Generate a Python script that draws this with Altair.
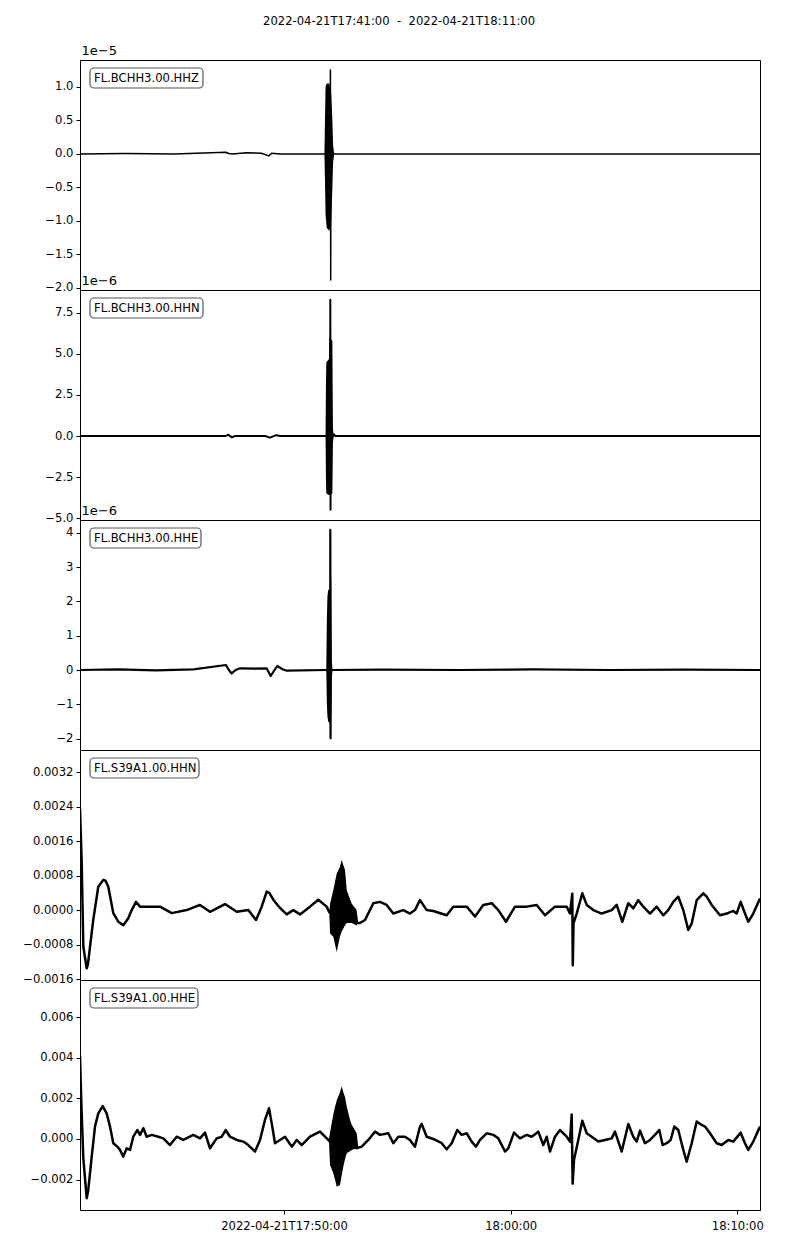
import altair as alt
import pandas as pd

TITLE = "2022-04-21T17:41:00\u00a0\u00a0-\u00a0\u00a02022-04-21T18:11:00"
T_END = 1800
X_TICKS = [540, 1140, 1740]
X_TICK_LABELS = ["2022-04-21T17:50:00", "18:00:00", "18:10:00"]

LABELS = ["FL.BCHH3.00.HHZ", "FL.BCHH3.00.HHN", "FL.BCHH3.00.HHE",
          "FL.S39A1.00.HHN", "FL.S39A1.00.HHE"]
OFFSETS = ["1e\u22125", "1e\u22126", "1e\u22126", "", ""]

# ---- FL.BCHH3.00.HHZ (units of 1e-5) ----
hhz_t = [0, 120, 250, 386, 394, 404, 440, 480, 500, 507, 530, 600, 645, 662.3,
         662.8, 663.6, 664.2, 680, 800, 1000, 1200, 1400, 1600, 1800]
hhz_v = [0, 0.005, 0, 0.025, 0.005, 0, 0.015, 0.01, -0.03, 0.01, 0, 0, 0, 0,
         1.25, -1.88, 0, 0, 0, 0, 0, 0, 0, 0]
hhz_bt = [647, 648.5, 650, 653, 660, 665, 668, 670, 673]
hhz_hi = [0, 0.5, 1.0, 1.05, 1.05, 0.9, 0.5, 0.12, 0]
hhz_lo = [0, -0.4, -0.9, -1.1, -1.15, -1.0, -0.5, -0.12, 0]

# ---- FL.BCHH3.00.HHN (units of 1e-6) ----
bhn_t = [0, 200, 386, 392, 402, 410, 490, 503, 519, 530, 649, 662.3, 662.6,
         663.2, 663.6, 672, 676, 900, 1200, 1500, 1800]
bhn_v = [0, 0, 0, 0.08, -0.08, 0, 0, -0.1, 0.05, 0, 0, 0, 8.3,
         -4.5, 0, 0.1, 0, 0, 0, 0, 0]
bhn_bt = [650, 651, 652, 659, 660, 668, 669.5, 671, 673]
bhn_hi = [0, 3.0, 4.5, 4.7, 6.0, 5.8, 0.5, 0.1, 0]
bhn_lo = [0, -2.5, -3.5, -3.6, -3.6, -3.5, -0.4, -0.1, 0]

# ---- FL.BCHH3.00.HHE (units of 1e-6) ----
bhe_t = [0, 100, 200, 300, 386.5, 394, 401.5, 412, 423.5, 460, 494, 504.7, 512,
         522.3, 535, 547, 652, 662.2, 662.6, 663.2, 663.7, 668, 800, 1000, 1200,
         1400, 1600, 1800]
bhe_v = [0, 0.02, -0.01, 0.02, 0.146, 0, -0.1, 0, 0.05, 0.04, 0.05, -0.175, -0.05,
         0.117, 0.03, -0.02, 0, 0, 4.08, -1.99, 0, 0, 0.01, 0, 0.02,
         0, 0.01, 0]
bhe_bt = [652, 653.5, 655, 657, 661.5, 663.5, 665, 666.5, 668]
bhe_hi = [0.05, 1.5, 2.14, 2.33, 2.35, 2.83, 2.6, 0.3, 0.08]
bhe_lo = [-0.05, -1.0, -1.36, -1.5, -1.55, -1.55, -1.3, -0.2, -0.08]

# ---- FL.S39A1.00.HHN (units of 1e-3) ----
shn_t = [0, 4.5, 8.8, 17.7, 21, 35.2, 48.4, 61.7, 67.5, 74.9, 88.1, 101.4, 114.6,
         127.9, 136.8, 148.2, 158.8, 176.5, 211.8, 242.7, 282.4, 317.6, 344.1,
         383.8, 414.8, 445.5, 465.9, 481, 494.2, 501.1, 511.7, 529.4, 547.1,
         564.6, 582.3, 608.8, 630.8, 653, 660, 680, 700, 720, 732, 741, 754.4,
         776.4, 794, 811.8, 829.3, 855.8, 873.5, 886.7, 900, 917.7, 935.2, 970.6,
         988.1, 1023.6, 1045.6, 1067.5, 1089.8, 1107.3, 1127.6, 1151.4, 1182.4,
         1208.9, 1230.9, 1257.3, 1288.3, 1297, 1303.1, 1304.4, 1306.3, 1314.8,
         1329.6, 1341.2, 1358.7, 1380.9, 1407.4, 1420.6, 1435.5, 1451.4, 1464.6,
         1477.8, 1491.1, 1508.8, 1526.5, 1544, 1557.2, 1570.5, 1583.7, 1596.9,
         1610.2, 1619.2, 1632.4, 1649.9, 1658.9, 1672.1, 1694.1, 1711.8, 1729.3,
         1738.2, 1748.9, 1760.3, 1769, 1782.2, 1800]
shn_v = [2.35, 1.09, -0.85, -1.35, -1.25, -0.22, 0.54, 0.70, 0.68, 0.54, -0.07,
         -0.27, -0.35, -0.19, 0.0, 0.19, 0.08, 0.08, 0.08, -0.07, 0.0, 0.12,
         -0.04, 0.14, -0.04, 0.0, -0.23, 0.08, 0.43, 0.40, 0.24, 0.05, -0.10,
         0.0, -0.10, 0.08, 0.24, 0.08, -0.05, -0.1, 0.1, 0.0, -0.3, -0.3, -0.23,
         0.16, 0.19, 0.12, -0.08, 0.0, -0.08, 0.0, 0.23, 0.0, -0.02, -0.12,
         0.08, 0.08, -0.15, 0.12, 0.16, 0.0, -0.27, 0.08, 0.08,
         0.12, -0.12, 0.08, 0.08, -0.08, 0.38, -1.28, -0.31, -0.08,
         0.39, 0.12, 0.0, -0.08, 0.0, 0.12, -0.27, 0.16, 0.04,
         0.23, 0.08, -0.08, 0.08, -0.12, 0.0, 0.19, 0.31, 0.0,
         -0.46, -0.31, 0.23, 0.39, 0.31, 0.12, -0.12, -0.08, -0.02,
         -0.08, 0.19, -0.08, -0.27, -0.08, 0.27]
shn_bt = [660, 662, 670.5, 679.5, 688, 692.5, 701.5, 706, 719, 732, 736]
shn_hi = [-0.05, 0.15, 0.46, 0.85, 1.0, 1.16, 0.93, 0.46, 0.15, 0.0, -0.25]
shn_lo = [-0.1, -0.54, -0.62, -0.97, -0.62, -0.5, -0.35, -0.3, -0.3, -0.35, -0.3]

# ---- FL.S39A1.00.HHE (units of 1e-3) ----
she_t = [0, 4, 8.8, 17.7, 22, 31, 39.7, 48.4, 60, 70.6, 79.4, 88.1, 98.8, 105.9,
         114.6, 123.6, 132.4, 141.1, 151.7, 158.8, 167.6, 176.5, 189.8, 207.3,
         220.5, 238.2, 256, 273.4, 299.9, 317.6, 330.9, 344.1, 361.8, 375.1,
         385.6, 397, 414.8, 432.3, 445.5, 463.2, 476.5, 489.7, 500.3, 507.4,
         516.2, 529.4, 542.6, 560.4, 573.6, 586.8, 608.8, 635.3, 648.5, 657.2,
         670, 690, 710, 732, 745.6, 763.2, 780.9, 794.1, 816.1, 829.3, 842.6,
         860.3, 873.5, 886.7, 900, 904.4, 917.7, 935.2, 957.5, 970.6, 983.9,
         998.7, 1010.3, 1023.6, 1036.8, 1048.2, 1058.8, 1076.5, 1094, 1107.3,
         1125, 1133.7, 1148.8, 1164.7, 1182.4, 1195.6, 1213.2, 1226.4, 1235.4,
         1244.1, 1257.3, 1270.6, 1288.3, 1297, 1301.5, 1304.1, 1307.6, 1319,
         1329.6, 1341.2, 1354.5, 1372, 1389.7, 1407.4, 1416.1, 1433.9, 1451.4,
         1464.6, 1473.6, 1482.3, 1495.6, 1508.8, 1522, 1533.4, 1542.3, 1553,
         1563.5, 1573.1, 1583.7, 1596.9, 1605.9, 1619.2, 1632.4, 1645.7, 1654.4,
         1667.6, 1685.4, 1698.6, 1716.1, 1729.3, 1748.9, 1760.3, 1769, 1782.2,
         1800]
she_v = [4.1, 1.5, -0.95, -2.92, -2.5, -0.87, 0.61, 1.26, 1.62, 1.26, 0.61, -0.21,
         -0.38, -0.54, -0.87, -0.46, -0.54, 0.11, 0.44, 0.20, 0.53, 0.11, 0.20,
         0.11, 0.03, -0.30, 0.11, -0.05, 0.20, 0.03, 0.31, -0.46, 0.03, 0.11,
         0.44, 0.11, -0.05, -0.13, -0.30, -0.62, -0.05, 0.94, 1.51, 0.78,
         -0.21, -0.05, 0.11, -0.38, -0.05, -0.30, 0.11, 0.36, 0.11, -0.05,
         -0.3, 0.2, 0.0, -0.46, -0.38, -0.05, 0.36, 0.20, 0.28, -0.21, 0.11,
         0.11, -0.05, -0.38, 0.61, 0.74, 0.11, 0.0, -0.21, -0.51, -0.21,
         0.44, 0.20, 0.28, -0.13, -0.38, -0.05, 0.28, 0.20, 0.03,
         -0.62, -0.46, 0.31, 0.03, 0.20, 0.11, 0.36, -0.30, 0.11,
         -0.62, 0.11, 0.44, 0.11, -0.13, 1.2, -2.2, -1.04, -0.05,
         0.9, 0.28, 0.11, -0.13, -0.05, 0.03, 0.36, -0.62, 0.74,
         0.11, -0.13, 0.41, -0.21, -0.05, 0.20, 0.44, -0.30, -0.21,
         -0.05, 0.61, 0.44, -0.54, -1.12, -0.21, 0.86, 0.69, 0.61,
         0.28, -0.21, -0.30, -0.05, -0.13, 0.31, -0.21, -0.54, -0.13,
         0.61]
she_bt = [659, 661.8, 670.5, 675, 679.5, 688.2, 692.6, 697, 701.5, 706, 714.7,
          719.2, 732.4, 736]
she_hi = [0.0, 0.3, 1.2, 1.59, 1.9, 2.3, 2.6, 2.3, 2.07, 1.6, 0.94, 0.7, 0.28, -0.3]
she_lo = [-0.1, -1.28, -1.69, -2.0, -2.35, -2.27, -1.8, -1.36, -1.0, -0.71, -0.6,
          -0.54, -0.46, -0.4]

PANELS = [
    dict(t=hhz_t, v=hhz_v, bt=hhz_bt, hi=hhz_hi, lo=hhz_lo, domain=[-2.03, 1.40],
         ticks=[-2.0, -1.5, -1.0, -0.5, 0.0, 0.5, 1.0],
         expr="format(datum.value, '.1f')", sw=1.5, box=113),
    dict(t=bhn_t, v=bhn_v, bt=bhn_bt, hi=bhn_hi, lo=bhn_lo, domain=[-5.12, 8.9],
         ticks=[-5.0, -2.5, 0.0, 2.5, 5.0, 7.5],
         expr="format(datum.value, '.1f')", sw=2.0, box=113),
    dict(t=bhe_t, v=bhe_v, bt=bhe_bt, hi=bhe_hi, lo=bhe_lo, domain=[-2.33, 4.37],
         ticks=[-2, -1, 0, 1, 2, 3, 4],
         expr="format(datum.value, 'd')", sw=2.2, box=111),
    dict(t=shn_t, v=shn_v, bt=shn_bt, hi=shn_hi, lo=shn_lo, domain=[-1.62, 3.71],
         ticks=[-1.6, -0.8, 0.0, 0.8, 1.6, 2.4, 3.2],
         expr="format(datum.value / 1000, '.4f')", sw=2.5, box=109),
    dict(t=she_t, v=she_v, bt=she_bt, hi=she_hi, lo=she_lo, domain=[-3.5, 7.83],
         ticks=[-2, 0, 2, 4, 6],
         expr="format(datum.value / 1000, '.3f')", sw=2.5, box=108),
]

FONT = "DejaVu Sans"
x_label_expr = " : ".join(
    f"datum.value == {v} ? '{l}'" for v, l in zip(X_TICKS[:-1], X_TICK_LABELS[:-1])
) + f" : '{X_TICK_LABELS[-1]}'"


def make_panel(i, p):
    last = i == len(PANELS) - 1
    xscale = alt.Scale(domain=[0, T_END], nice=False, zero=False)
    if last:
        xaxis = alt.Axis(values=X_TICKS, labelExpr=x_label_expr, title=None,
                         labelFlush=False, labelPadding=6)
    else:
        xaxis = None
    ykw = dict(values=p["ticks"], labelExpr=p["expr"], labelOverlap=False)
    if OFFSETS[i]:
        ykw.update(title=OFFSETS[i], titleAngle=0, titleAlign="left",
                   titleBaseline="bottom", titleX=1, titleY=-3,
                   titleFontSize=13, titleFontWeight="normal", titleFont=FONT,
                   titleColor="black")
    else:
        ykw.update(title=None)
    yaxis = alt.Axis(**ykw)
    yscale = alt.Scale(domain=p["domain"], nice=False, zero=False)

    line_df = pd.DataFrame({"t": p["t"], "v": p["v"]})
    burst_df = pd.DataFrame({"t": p["bt"], "hi": p["hi"], "lo": p["lo"]})
    lab_df = pd.DataFrame({"label": [LABELS[i]]})

    line = alt.Chart(line_df).mark_line(
        color="black", strokeWidth=p["sw"], strokeJoin="round", clip=True
    ).encode(
        x=alt.X("t:Q", scale=xscale, axis=xaxis),
        y=alt.Y("v:Q", scale=yscale, axis=yaxis),
    )
    burst = alt.Chart(burst_df).mark_area(color="black", clip=True).encode(
        x=alt.X("t:Q", scale=xscale, axis=xaxis),
        y=alt.Y("hi:Q", scale=yscale, axis=yaxis),
        y2="lo:Q",
    )
    box = alt.Chart(lab_df).mark_rect(
        fill="white", stroke="#555555", strokeWidth=1.2, cornerRadius=4
    ).encode(x=alt.value(10), x2=alt.value(10 + p["box"]),
             y=alt.value(8), y2=alt.value(28))
    txt = alt.Chart(lab_df).mark_text(
        align="left", baseline="middle", font=FONT, fontSize=11.6, color="black"
    ).encode(x=alt.value(14), y=alt.value(18.5), text="label:N")
    return alt.layer(line, burst, box, txt).properties(width=680, height=230)


chart = alt.vconcat(*[make_panel(i, p) for i, p in enumerate(PANELS)], spacing=0).properties(
    title=alt.Title(TITLE, fontSize=11.6, font=FONT, fontWeight="normal",
                    color="black", anchor="middle", offset=16, dx=6),
    bounds="flush",
    padding={"left": 14, "top": 7, "right": 5, "bottom": 5},
).configure_view(stroke="black", strokeWidth=1).configure_axis(
    domainColor="black", domainWidth=1, tickColor="black", tickSize=4,
    labelFont=FONT, labelFontSize=11.6, labelColor="black", grid=False,
    labelPadding=3,
)

chart.save("out.html", embed_options={"renderer": "svg", "actions": False})
